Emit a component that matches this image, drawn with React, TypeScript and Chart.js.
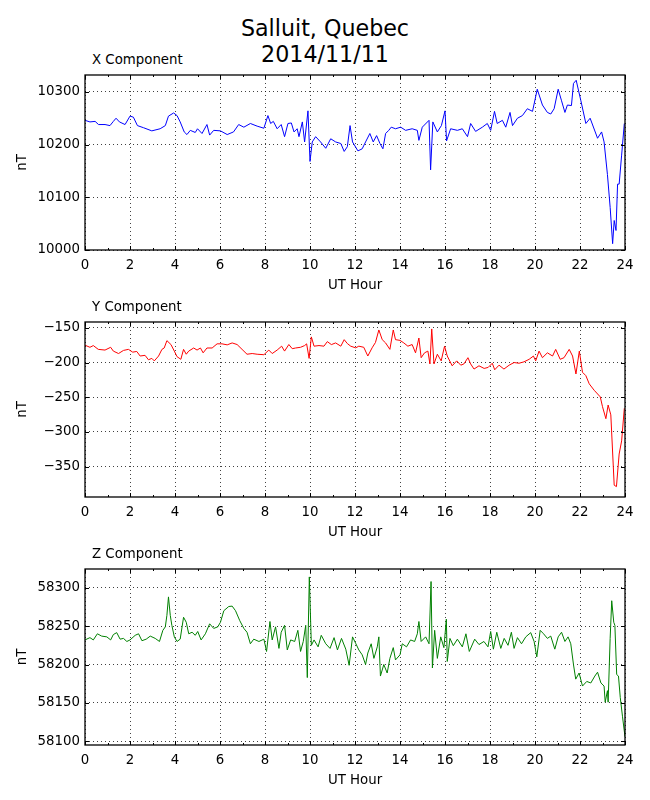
import React, { useEffect, useRef } from 'react';
import { Chart, registerables } from 'chart.js';

Chart.register(...registerables);

const FONT = 'DejaVu Sans';

// x axis: UT hour
const hourTicks = [0, 2, 4, 6, 8, 10, 12, 14, 16, 18, 20, 22, 24];
const hourMarks = [0, 1, 2, 3, 4, 5, 6, 7, 8, 9, 10, 11, 12, 13, 14, 15, 16, 17, 18, 19, 20, 21, 22, 23, 24];

// X component (nT)
const xHours = [
  0.0, 0.22, 0.45, 0.6, 0.89, 1.11, 1.26, 1.38, 1.53, 1.78, 2.0, 2.15, 2.33, 2.6, 2.97, 3.34, 3.57, 3.71, 3.94,
  4.09, 4.23, 4.41, 4.53, 4.68, 4.9, 5.0, 5.2, 5.42, 5.54, 5.72, 6.02, 6.32, 6.6, 6.83, 7.06, 7.35, 7.65, 7.95,
  8.13, 8.25, 8.37, 8.54, 8.72, 8.87, 9.02, 9.17, 9.29, 9.43, 9.51, 9.66, 9.76, 9.91, 10.0, 10.1, 10.25, 10.47,
  10.7, 10.92, 11.14, 11.37, 11.52, 11.66, 11.78, 11.89, 12.13, 12.32, 12.47, 12.66, 12.81, 12.96, 13.11, 13.24,
  13.36, 13.5, 13.61, 13.8, 14.03, 14.25, 14.54, 14.77, 14.84, 14.99, 15.29, 15.36, 15.46, 15.66, 15.84, 16.0,
  16.07, 16.25, 16.55, 16.77, 17.0, 17.14, 17.36, 17.66, 17.88, 18.03, 18.2, 18.32, 18.55, 18.7, 18.89, 19.0,
  19.22, 19.44, 19.66, 19.89, 20.1, 20.33, 20.55, 20.7, 20.85, 21.03, 21.18, 21.33, 21.44, 21.62, 21.71, 21.83,
  22.04, 22.26, 22.45, 22.78, 22.96, 23.07, 23.22, 23.34, 23.45, 23.52, 23.6, 23.67, 23.74, 23.85, 23.97,
];
const xValues = [
  10246, 10243, 10244, 10238, 10238, 10236, 10244, 10250, 10243, 10238, 10254, 10252, 10236, 10232, 10226, 10230,
  10236, 10254, 10260, 10255, 10243, 10224, 10219, 10227, 10223, 10230, 10221, 10238, 10218, 10227, 10226, 10219,
  10224, 10238, 10233, 10240, 10235, 10231, 10255, 10240, 10244, 10230, 10238, 10215, 10240, 10241, 10224, 10230,
  10215, 10243, 10205, 10264, 10168, 10205, 10215, 10205, 10193, 10211, 10205, 10202, 10187, 10196, 10236, 10205,
  10188, 10192, 10205, 10221, 10205, 10217, 10202, 10192, 10221, 10227, 10233, 10230, 10233, 10227, 10230, 10227,
  10208, 10233, 10246, 10152, 10243, 10224, 10236, 10264, 10207, 10230, 10227, 10230, 10215, 10240, 10225, 10233,
  10240, 10227, 10263, 10240, 10246, 10233, 10261, 10236, 10250, 10255, 10268, 10263, 10305, 10275, 10261, 10258,
  10268, 10305, 10283, 10261, 10275, 10274, 10316, 10322, 10283, 10240, 10250, 10212, 10224, 10205, 10143, 10081,
  10012, 10056, 10037, 10125, 10125, 10180, 10240,
];
const xTicks = [10000, 10100, 10200, 10300];

// Y component (nT)
const yHours = [
  0.0, 0.22, 0.37, 0.59, 0.89, 1.14, 1.26, 1.49, 1.71, 1.93, 2.12, 2.3, 2.45, 2.67, 2.82, 2.97, 3.08, 3.27, 3.42,
  3.52, 3.64, 3.82, 3.97, 4.09, 4.26, 4.38, 4.5, 4.61, 4.83, 4.98, 5.13, 5.25, 5.42, 5.65, 5.87, 6.09, 6.32, 6.54,
  6.76, 6.98, 7.2, 7.43, 7.65, 7.95, 8.17, 8.32, 8.54, 8.74, 8.87, 9.06, 9.21, 9.36, 9.58, 9.76, 9.85, 9.96, 10.06,
  10.18, 10.4, 10.62, 10.77, 10.95, 11.14, 11.37, 11.52, 11.66, 11.81, 12.03, 12.17, 12.39, 12.57, 12.76, 12.91,
  13.06, 13.21, 13.36, 13.55, 13.7, 13.8, 14.0, 14.17, 14.35, 14.54, 14.69, 14.84, 14.94, 15.09, 15.24, 15.33,
  15.41, 15.51, 15.66, 15.83, 15.98, 16.1, 16.32, 16.52, 16.7, 16.84, 17.02, 17.14, 17.29, 17.51, 17.74, 17.92,
  18.1, 18.21, 18.4, 18.62, 18.85, 19.07, 19.29, 19.51, 19.74, 19.93, 20.03, 20.18, 20.33, 20.55, 20.78, 20.92,
  21.12, 21.29, 21.52, 21.67, 21.82, 21.97, 22.11, 22.26, 22.41, 22.63, 22.9, 23.0, 23.15, 23.25, 23.37, 23.52,
  23.62, 23.74, 23.85, 23.97,
];
const yValues = [
  -175, -178, -175.5, -181, -182, -178, -183.5, -187, -182.5, -181, -185, -184, -190.6, -189.6, -196, -194, -197.6,
  -190.6, -181, -179, -168.4, -174, -183.5, -191.5, -195.3, -181, -188, -183.5, -179, -182, -179, -186, -179, -179,
  -173, -173, -174.5, -171.7, -174, -181, -188, -187, -188, -188.7, -182, -187, -182, -176.4, -183.5, -174, -180,
  -179, -178, -175.5, -173, -194, -163, -176.4, -175.5, -176.4, -169.8, -174.1, -171.7, -176.4, -167, -172.6,
  -176.4, -178.8, -176.4, -178, -190.6, -178.8, -171, -153, -167, -171.7, -181, -153, -167, -168, -171.7, -176.4,
  -174, -186, -164.6, -193, -186, -183.5, -202, -151.5, -202, -188, -197.6, -176.4, -190.6, -204.7, -197.6, -203.8,
  -202, -193, -202, -209.4, -204.7, -208.5, -207, -201, -210.4, -203.8, -209.4, -203.8, -200, -201, -199, -195.3,
  -190.6, -197.6, -183.5, -193, -186, -190.6, -181, -195.3, -193, -181, -190.6, -216.5, -183.5, -214, -218.9,
  -230.7, -240, -249.5, -263.7, -281, -261.3, -275.5, -377, -379, -332, -313, -266,
];
const yTicks = [-350, -300, -250, -200, -150];

// Z component (nT)
const zHours = [
  0.0, 0.22, 0.37, 0.55, 0.74, 0.97, 1.14, 1.26, 1.41, 1.56, 1.71, 1.86, 2.0, 2.23, 2.38, 2.53, 2.72, 2.9, 3.12,
  3.31, 3.46, 3.57, 3.64, 3.71, 3.79, 3.86, 3.97, 4.09, 4.23, 4.38, 4.5, 4.61, 4.76, 4.9, 5.01, 5.16, 5.35, 5.54,
  5.72, 5.9, 6.02, 6.17, 6.39, 6.54, 6.69, 6.88, 7.06, 7.2, 7.35, 7.5, 7.73, 7.95, 8.07, 8.22, 8.32, 8.47, 8.62,
  8.72, 8.87, 8.99, 9.14, 9.32, 9.46, 9.58, 9.7, 9.81, 9.88, 9.97, 10.06, 10.18, 10.36, 10.5, 10.7, 10.89, 11.07,
  11.22, 11.4, 11.59, 11.74, 11.89, 12.04, 12.17, 12.32, 12.47, 12.57, 12.72, 12.84, 12.99, 13.06, 13.13, 13.28,
  13.43, 13.55, 13.7, 13.8, 14.0, 14.1, 14.29, 14.47, 14.65, 14.77, 14.84, 14.94, 15.14, 15.29, 15.38, 15.44,
  15.54, 15.66, 15.81, 15.95, 16.06, 16.1, 16.22, 16.37, 16.55, 16.77, 16.93, 17.08, 17.32, 17.51, 17.73, 17.91,
  18.03, 18.15, 18.3, 18.48, 18.63, 18.8, 18.95, 19.07, 19.22, 19.4, 19.59, 19.81, 19.96, 20.08, 20.23, 20.38,
  20.55, 20.7, 20.88, 21.03, 21.18, 21.33, 21.47, 21.59, 21.71, 21.81, 21.96, 22.11, 22.3, 22.48, 22.66, 22.78,
  22.93, 23.07, 23.12, 23.22, 23.25, 23.34, 23.41, 23.5, 23.55, 23.63, 23.71, 23.79, 23.89, 24.0,
];
const zValues = [
  58232, 58235, 58232, 58240, 58237, 58236, 58232, 58239, 58241.5, 58233, 58234, 58230, 58232, 58238, 58240, 58231,
  58233, 58237, 58234, 58230, 58244.5, 58249, 58264, 58288, 58264, 58251, 58236, 58230, 58233, 58261.5, 58255,
  58240, 58242, 58238, 58243, 58232, 58240, 58253, 58247, 58249, 58255, 58270, 58275.5, 58276, 58270, 58257, 58247,
  58242, 58227, 58233, 58230, 58233, 58217, 58256, 58232, 58249, 58221, 58242, 58251, 58219, 58232, 58230, 58244.5,
  58217, 58230, 58251, 58183, 58314, 58225, 58232, 58223, 58238, 58227, 58221, 58235, 58219, 58234, 58220, 58199,
  58236, 58227, 58219, 58212.6, 58200, 58215, 58227, 58208, 58223, 58236, 58185, 58200, 58189, 58208, 58222, 58206,
  58212.6, 58227, 58223, 58232, 58230, 58240, 58256, 58230, 58236, 58227, 58308, 58195.5, 58244.5, 58208, 58236,
  58222, 58259, 58204, 58234, 58224.5, 58233, 58223, 58240, 58217, 58233, 58226, 58230, 58223, 58243, 58220, 58242,
  58221, 58234, 58225, 58242, 58221, 58235, 58227, 58236, 58241.5, 58230, 58210, 58244.5, 58240, 58234, 58237,
  58220, 58236, 58242, 58230, 58236, 58227, 58200, 58181, 58189, 58172, 58178, 58176, 58185, 58190, 58176, 58172,
  58151, 58166, 58151, 58234, 58283, 58255, 58251, 58187, 58185, 58157, 58132, 58106,
];
const zTicks = [58100, 58150, 58200, 58250, 58300];

// box round the plot area with inward tick marks, like the matplotlib original
const frame = {
  id: 'frame',
  afterDraw(chart: any) {
    const { ctx, chartArea } = chart;
    const { left, right, top, bottom } = chartArea;
    const xs = chart.scales.x;
    const ys = chart.scales.y;
    ctx.save();
    ctx.strokeStyle = '#000';
    ctx.setLineDash([]);
    ctx.lineWidth = 1;
    ctx.beginPath();
    hourMarks.forEach((h) => {
      const px = Math.round(xs.getPixelForValue(h)) + 0.5;
      const len = h % 2 === 0 ? 4 : 2;
      ctx.moveTo(px, bottom);
      ctx.lineTo(px, bottom - len);
      ctx.moveTo(px, top);
      ctx.lineTo(px, top + len);
    });
    ys.ticks.forEach((t: any) => {
      const py = Math.round(ys.getPixelForValue(t.value)) + 0.5;
      ctx.moveTo(left, py);
      ctx.lineTo(left + 4, py);
      ctx.moveTo(right, py);
      ctx.lineTo(right - 4, py);
    });
    ctx.stroke();
    ctx.lineWidth = 1.3;
    ctx.strokeRect(left, top, right - left, bottom - top);
    ctx.restore();
  },
};

const tickFont = { family: FONT, size: 13.33 };
const gridColor = 'rgba(0,0,0,0.75)';

const Panel = ({ hours, values, color, ticks, min, max, plotTop, height, title }) => {
  const chartRef = useRef<HTMLCanvasElement>(null);

  useEffect(() => {
    const chart = new Chart(chartRef.current!, {
      type: 'line',
      data: {
        datasets: [
          {
            data: hours.map((h: number, i: number) => ({ x: h, y: values[i] })),
            borderColor: color,
            borderWidth: 1,
            pointRadius: 0,
            fill: false,
            tension: 0,
          },
        ],
      },
      options: {
        animation: false,
        responsive: true,
        maintainAspectRatio: false,
        layout: { padding: { top: 10, right: 25, left: 0, bottom: 0 } },
        plugins: {
          legend: { display: false },
          tooltip: { enabled: false },
        },
        scales: {
          x: {
            type: 'linear',
            min: 0,
            max: 24,
            afterBuildTicks: (s: any) => {
              s.ticks = hourTicks.map((v) => ({ value: v }));
            },
            afterFit: (s: any) => {
              s.height = 50;
            },
            grid: { color: gridColor, lineWidth: 1, drawTicks: false },
            border: { display: false, dash: [1, 3] },
            ticks: { padding: 8, color: '#000', font: tickFont, maxRotation: 0, autoSkip: false },
            title: { display: true, text: 'UT Hour', color: '#000', font: tickFont, padding: { bottom: 6 } },
          },
          y: {
            min,
            max,
            afterBuildTicks: (s: any) => {
              s.ticks = ticks.map((v: number) => ({ value: v }));
            },
            afterFit: (s: any) => {
              s.width = 85;
            },
            grid: { color: gridColor, lineWidth: 1, drawTicks: false },
            border: { display: false, dash: [1, 3] },
            ticks: {
              padding: 5,
              color: '#000',
              font: tickFont,
              autoSkip: false,
              callback: (v: any) => String(v).replace('-', '\u2212'),
            },
            title: { display: true, text: 'nT', color: '#000', font: tickFont, padding: { top: 15 } },
          },
        },
      },
      plugins: [frame],
    });

    return () => chart.destroy();
  }, []);

  return (
    <>
      <div
        style={{
          position: 'absolute',
          left: 92,
          top: plotTop - 20,
          fontFamily: FONT,
          fontSize: 13.33,
          lineHeight: '16px',
          color: '#000',
          whiteSpace: 'nowrap',
        }}
      >
        {title}
      </div>
      <div style={{ position: 'absolute', left: 0, top: plotTop - 10, width: 650, height }}>
        <canvas ref={chartRef} />
      </div>
    </>
  );
};

const App = () => {
  return (
    <div style={{ position: 'absolute', left: 0, top: 0, width: 650, height: 800, background: '#fff' }}>
      <div
        style={{
          position: 'absolute',
          left: 0,
          top: 15,
          width: 650,
          textAlign: 'center',
          fontFamily: FONT,
          fontSize: 22.2,
          lineHeight: '26px',
          color: '#000',
        }}
      >
        Salluit, Quebec
        <br />
        2014/11/11
      </div>
      <Panel hours={xHours} values={xValues} color="#0000ff" ticks={xTicks} min={10000} max={10332} plotTop={72} height={238} title="X Component" />
      <Panel hours={yHours} values={yValues} color="#ff0000" ticks={yTicks} min={-394} max={-141.5} plotTop={319} height={238} title="Y Component" />
      <Panel hours={zHours} values={zValues} color="#008000" ticks={zTicks} min={58095.3} max={58324.3} plotTop={566} height={239} title="Z Component" />
    </div>
  );
};

export default App;
